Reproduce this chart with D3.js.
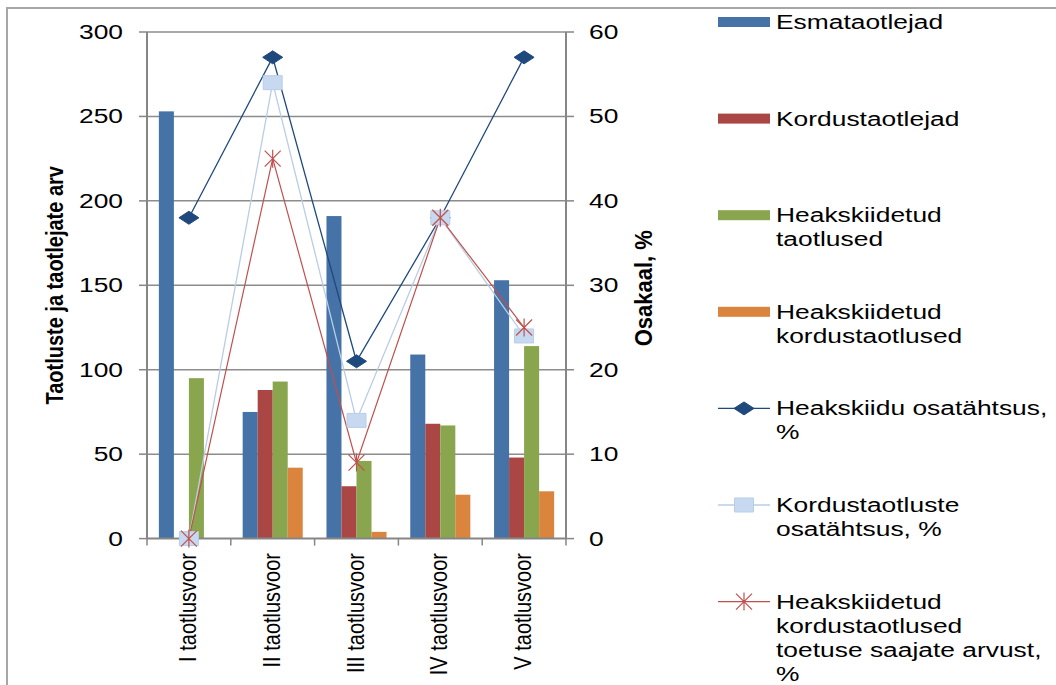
<!DOCTYPE html>
<html><head><meta charset="utf-8">
<script src="https://cdn.jsdelivr.net/npm/d3@7"></script>
<style>body{margin:0;background:#fff}svg{display:block}text{font-family:"Liberation Sans",Arial,sans-serif;fill:#000}</style>
</head><body>
<svg id="c" width="1056" height="685"></svg>
<script>
const categories = ["I taotlusvoor","II taotlusvoor","III taotlusvoor","IV taotlusvoor","V taotlusvoor"];
const barSeriesNames = ["Esmataotlejad","Kordustaotlejad","Heakskiidetud taotlused","Heakskiidetud kordustaotlused"];
const esmataotlejad = [253, 75, 191, 109, 153];
const kordustaotlejad = [0, 88, 31, 68, 48];
const heakskiidetudTaotlused = [95, 93, 46, 67, 114];
const heakskiidetudKordustaotlused = [0, 42, 4, 26, 28];
const heakskiiduOsatahtsus = [38, 57, 21, 38, 57];
const kordustaotlusteOsatahtsus = [0, 54, 14, 38, 24];
const heakskiidetudKordusSaajad = [0, 45, 9, 38, 25];
const leftTicks = [0, 50, 100, 150, 200, 250, 300];
const rightTicks = [0, 10, 20, 30, 40, 50, 60];
const legendLabels = [
  ["Esmataotlejad"],["Kordustaotlejad"],["Heakskiidetud","taotlused"],["Heakskiidetud","kordustaotlused"],
  ["Heakskiidu osatähtsus,","%"],["Kordustaotluste","osatähtsus, %"],
  ["Heakskiidetud","kordustaotlused","toetuse saajate arvust,","%"]
];
const barColors = ["#4572A7","#AA4643","#89A54E","#DB843D"];
const SX = 1.32;

const svg = d3.select("#c");
// frame
svg.append("path").attr("d","M7,685 L7,8 L1056,8").attr("fill","none").attr("stroke","#a6a6a6").attr("stroke-width",2);

const L = 147, R = 566, T = 32, B = 538.6;
const x0 = d3.scaleBand().domain(categories).range([L, R]).padding(0);
const x1 = d3.scaleBand().domain(d3.range(4)).range([0, x0.bandwidth()]).paddingInner(0).paddingOuter(0.79);
const yL = d3.scaleLinear().domain([0, 300]).range([B, T]);
const yR = d3.scaleLinear().domain([0, 60]).range([B, T]);

// gridlines
svg.append("g").selectAll("line").data(leftTicks.slice(1)).join("line")
  .attr("x1", L).attr("x2", R).attr("y1", d=>yL(d)).attr("y2", d=>yL(d))
  .attr("stroke","#8c8c8c").attr("stroke-width",1.5);

// bars
const barData = [esmataotlejad, kordustaotlejad, heakskiidetudTaotlused, heakskiidetudKordustaotlused];
categories.forEach((c, ci) => {
  barData.forEach((arr, si) => {
    const v = arr[ci];
    if (v <= 0) return;
    svg.append("rect").attr("x", x0(c) + x1(si)).attr("width", x1.bandwidth())
      .attr("y", yL(v)).attr("height", B - yL(v)).attr("fill", barColors[si]);
  });
});

// axes lines
const axisCol = "#868686";
svg.append("line").attr("x1",L).attr("x2",L).attr("y1",T).attr("y2",B).attr("stroke",axisCol).attr("stroke-width",2);
svg.append("line").attr("x1",R).attr("x2",R).attr("y1",T).attr("y2",B).attr("stroke",axisCol).attr("stroke-width",2);
svg.append("line").attr("x1",L).attr("x2",R).attr("y1",B).attr("y2",B).attr("stroke",axisCol).attr("stroke-width",2);
// left ticks
leftTicks.forEach(t => {
  svg.append("line").attr("x1",L-8).attr("x2",L).attr("y1",yL(t)).attr("y2",yL(t)).attr("stroke",axisCol).attr("stroke-width",1.5);
  svg.append("text").attr("transform",`translate(123,${yL(t)+7}) scale(${SX},1)`).attr("text-anchor","end")
    .attr("font-size",20).text(t);
});
rightTicks.forEach(t => {
  svg.append("line").attr("x1",R).attr("x2",R+8).attr("y1",yR(t)).attr("y2",yR(t)).attr("stroke",axisCol).attr("stroke-width",1.5);
  svg.append("text").attr("transform",`translate(589,${yR(t)+7}) scale(${SX},1)`).attr("text-anchor","start")
    .attr("font-size",20).text(t);
});
// category ticks
categories.concat([null]).forEach((c, i) => {
  const xx = c ? x0(c) : R;
  svg.append("line").attr("x1",xx).attr("x2",xx).attr("y1",B).attr("y2",B+7).attr("stroke",axisCol).attr("stroke-width",1.5);
});
categories.forEach(c => {
  const cx = x0(c) + x0.bandwidth()/2;
  svg.append("text").attr("transform",`translate(${cx+7},553) scale(1.2,1) rotate(-90)`).attr("text-anchor","end")
    .attr("font-size",20).text(c);
});
// axis titles
svg.append("text").attr("transform",`translate(63,${(T+B)/2}) scale(1.15,1) rotate(-90)`).attr("text-anchor","middle")
  .attr("font-size",20).attr("font-weight","bold").text("Taotluste ja taotlejate arv");
svg.append("text").attr("transform",`translate(652,${(T+B)/2 + 3}) scale(1.12,1) rotate(-90)`).attr("text-anchor","middle")
  .attr("font-size",22).attr("font-weight","bold").text("Osakaal, %");

// lines
const cxs = categories.map(c => x0(c) + x0.bandwidth()/2);
const lineGen = d3.line().x((d,i)=>cxs[i]).y(d=>yR(d));
const diamond = "M-10,0 L0,-6.5 L10,0 L0,6.5 Z";
const square = "M-9.5,-7 L9.5,-7 L9.5,7 L-9.5,7 Z";
const star = "M-8,-8 L8,8 M-8,8 L8,-8 M0,-9 L0,9";
const lineSeries = [
  {data: heakskiiduOsatahtsus, color:"#1F497D", w:1.3, marker: diamond, fill:"#1F497D", mstroke:"#1F497D"},
  {data: kordustaotlusteOsatahtsus, color:"#B9CDE5", w:1.3, marker: square, fill:"#C6D9F1", mstroke:"#B9CDE5"},
  {data: heakskiidetudKordusSaajad, color:"#C0504D", w:1.2, marker: star, fill:"none", mstroke:"#C0504D"}
];
lineSeries.forEach(s => {
  svg.append("path").attr("d", lineGen(s.data)).attr("fill","none").attr("stroke", s.color).attr("stroke-width", s.w);
});
lineSeries.forEach(s => {
  s.data.forEach((v,i) => {
    svg.append("path").attr("d", s.marker).attr("transform",`translate(${cxs[i]},${yR(v)})`)
      .attr("fill", s.fill).attr("stroke", s.mstroke).attr("stroke-width", s.marker===star?1.2:1);
  });
});

// legend
const legY0 = 22, legStep = 96.6;
legendLabels.forEach((lines, i) => {
  const y = legY0 + i*legStep;
  if (i < 4) {
    svg.append("rect").attr("x",718).attr("y",y-5).attr("width",52).attr("height",10).attr("fill",barColors[i]);
  } else {
    const s = lineSeries[i-4];
    svg.append("line").attr("x1",718).attr("x2",770).attr("y1",y).attr("y2",y).attr("stroke",s.color).attr("stroke-width",s.w);
    svg.append("path").attr("d", s.marker).attr("transform",`translate(744,${y})`)
      .attr("fill", s.fill).attr("stroke", s.mstroke).attr("stroke-width", s.marker===star?1.2:1);
  }
  const t = svg.append("text").attr("transform",`translate(776,${y+7}) scale(${SX},1)`).attr("font-size",20);
  lines.forEach((ln, j) => t.append("tspan").attr("x",0).attr("dy", j===0?0:24).text(ln));
});
</script>
</body></html>
